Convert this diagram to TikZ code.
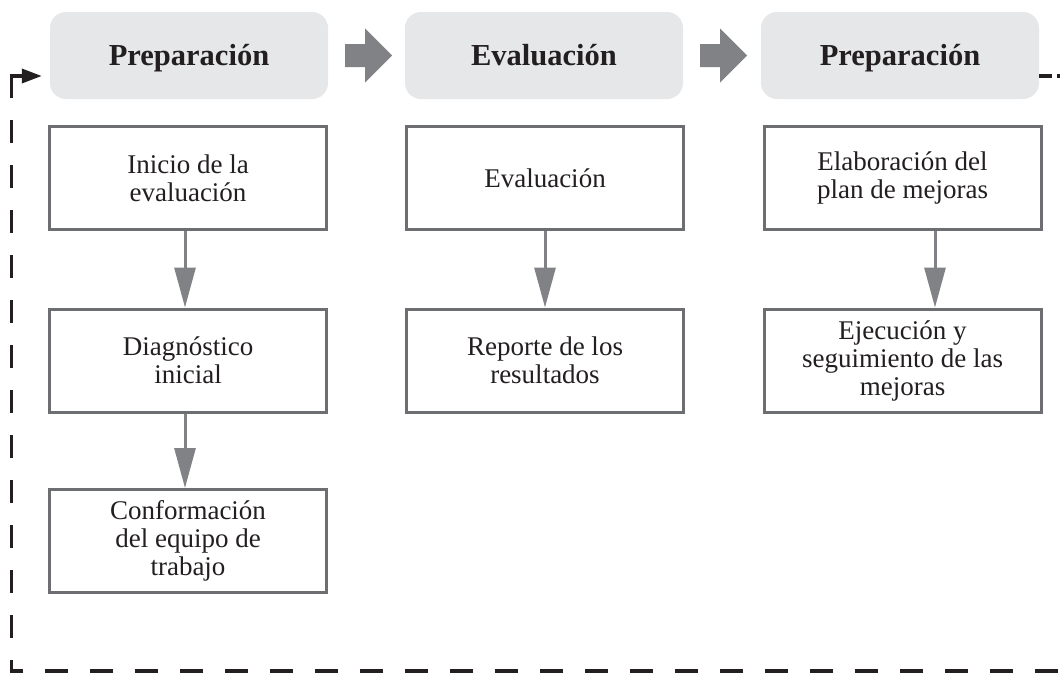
\documentclass[tikz,border=0pt]{standalone}
\usepackage{fontspec}
\setmainfont{Liberation Serif}
\usetikzlibrary{arrows.meta,calc}
\definecolor{hdr}{HTML}{E6E7E8}
\definecolor{bord}{HTML}{6D6E71}
\definecolor{arr}{HTML}{808285}
\definecolor{ink}{HTML}{231F20}
\begin{document}
\begin{tikzpicture}[x=1pt,y=-1pt,
  header/.style={fill=hdr, rounded corners=16pt, minimum width=278pt, minimum height=87pt,
    inner sep=0pt, text height=21pt, text depth=2pt,
    font=\fontsize{30.5}{33}\selectfont\bfseries, text=ink},
  stepbox/.style={draw=bord, line width=3pt, fill=white, minimum width=277pt, minimum height=103pt,
    align=center, inner sep=0pt, font=\fontsize{27}{28}\selectfont, text=ink},
  flow/.style={draw=arr, line width=3pt, -{Triangle[length=40pt,width=21pt,fill=arr]}},
  blockarrow/.style={fill=arr},
  loopline/.style={draw=ink, line width=3.5pt, dash pattern=on 23pt off 22pt, dash phase=27.5pt},
  looptip/.style={draw=ink, line width=3.5pt, -{Triangle[length=20pt,width=14pt,fill=ink]}, shorten >=8pt}]
\useasboundingbox (0,0) rectangle (1060,673);

% headers
\node[header] (h1) at (189,55.5) {Preparación};
\node[header] (h2) at (544,55.5) {Evaluación};
\node[header] (h3) at (900,55.5) {Preparación};

% block arrows between headers
\fill[blockarrow, shift={(h1.east)}] (17,-11.5) -- (37,-11.5) -- (37,-27) -- (64,0) -- (37,27) -- (37,11.5) -- (17,11.5) -- cycle;
\fill[blockarrow, shift={(h2.east)}] (17,-11.5) -- (37,-11.5) -- (37,-27) -- (64,0) -- (37,27) -- (37,11.5) -- (17,11.5) -- cycle;

% column 1
\node[stepbox] (a1) at (188,178) {Inicio de la\\evaluación};
\node[stepbox] (a2) at (188,360.5) {Diagnóstico\\inicial};
\node[stepbox] (a3) at (188,541) {Conformación\\del equipo de\\trabajo};
% column 2
\node[stepbox] (b1) at (545,178) {Evaluación};
\node[stepbox] (b2) at (545,360.5) {Reporte de los\\resultados};
% column 3
\node[stepbox] (c1) at (902.5,178) {Elaboración del\\plan de mejoras};
\node[stepbox] (c2) at (902.5,360.5) {Ejecución y\\seguimiento de las\\mejoras};

% flow arrows
\draw[flow] ([xshift=-3pt]a1.south) -- ([xshift=-3pt]a2.north);
\draw[flow] ([xshift=-3pt]a2.south) -- ([xshift=-3pt]a3.north);
\draw[flow] (b1.south) -- (b2.north);
\draw[flow] ([xshift=32.5pt]c1.south) -- ([xshift=32.5pt]c2.north);

% dashed loop
\coordinate (yl) at (0,76);
\coordinate (tr) at (1075,76);
\coordinate (br) at (1075,671);
\coordinate (bl) at (11.5,671);
\coordinate (tl) at (11.5,76);
\coordinate (tls) at (11.5,98);
\draw[loopline] (h3.east |- yl) -- (tr) -- (br) -- (bl) -- (tl);
\draw[draw=ink, line width=3.5pt] (h3.east |- yl) -- ++(13,0);
\draw[looptip] (tls) -- (tl) -- (h1.west |- yl);
\end{tikzpicture}
\end{document}
